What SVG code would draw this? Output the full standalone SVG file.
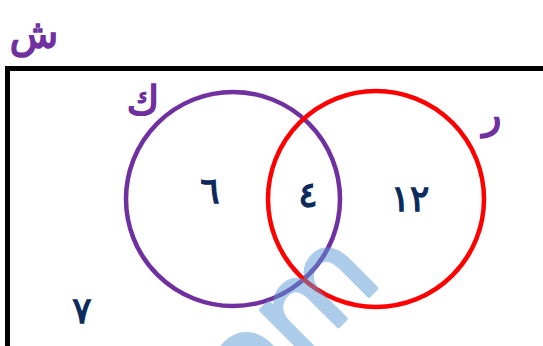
<svg xmlns="http://www.w3.org/2000/svg" width="543" height="346" viewBox="0 0 543 346">
<style>
.lbl{font-family:"DejaVu Sans",sans-serif;fill:#7030A0;stroke:#7030A0;stroke-width:1.5;font-size:40px;}
.num{font-family:"DejaVu Sans",sans-serif;fill:#0C2A5C;stroke:#0C2A5C;stroke-width:1.3;font-size:36px;}
.wm{font-family:"DejaVu Sans",sans-serif;fill:#5B9BD5;stroke:#5B9BD5;stroke-width:3.5;stroke-linejoin:round;font-size:122px;}
</style>
<rect x="0" y="0" width="543" height="346" fill="#fff"/>
<g id="universe">
<rect x="7.5" y="68.5" width="560" height="300" fill="none" stroke="#000" stroke-width="5"/>
<text class="lbl" x="34" y="48" text-anchor="middle" direction="rtl">ش</text>
</g>
<g id="setK">
<circle cx="233" cy="199" r="107" fill="none" stroke="#7030A0" stroke-width="4.5"/>
<text class="lbl" x="143" y="114" text-anchor="middle">ك</text>
</g>
<g id="setR">
<circle cx="376" cy="199" r="108" fill="none" stroke="#FF0000" stroke-width="4.5"/>
<text class="lbl" x="492" y="128" text-anchor="middle">ر</text>
</g>
<g id="numbers">
<text class="num" x="210" y="203" text-anchor="middle">٦</text>
<text class="num" x="308" y="207" text-anchor="middle">٤</text>
<text class="num" x="410" y="211" text-anchor="middle" direction="ltr">١٢</text>
<text class="num" x="82" y="323" text-anchor="middle">٧</text>
</g>
<g id="watermark" opacity="0.5">
<text class="wm" x="0" y="0" text-anchor="end" transform="translate(384,281) rotate(-45)">com</text>
</g>
</svg>
